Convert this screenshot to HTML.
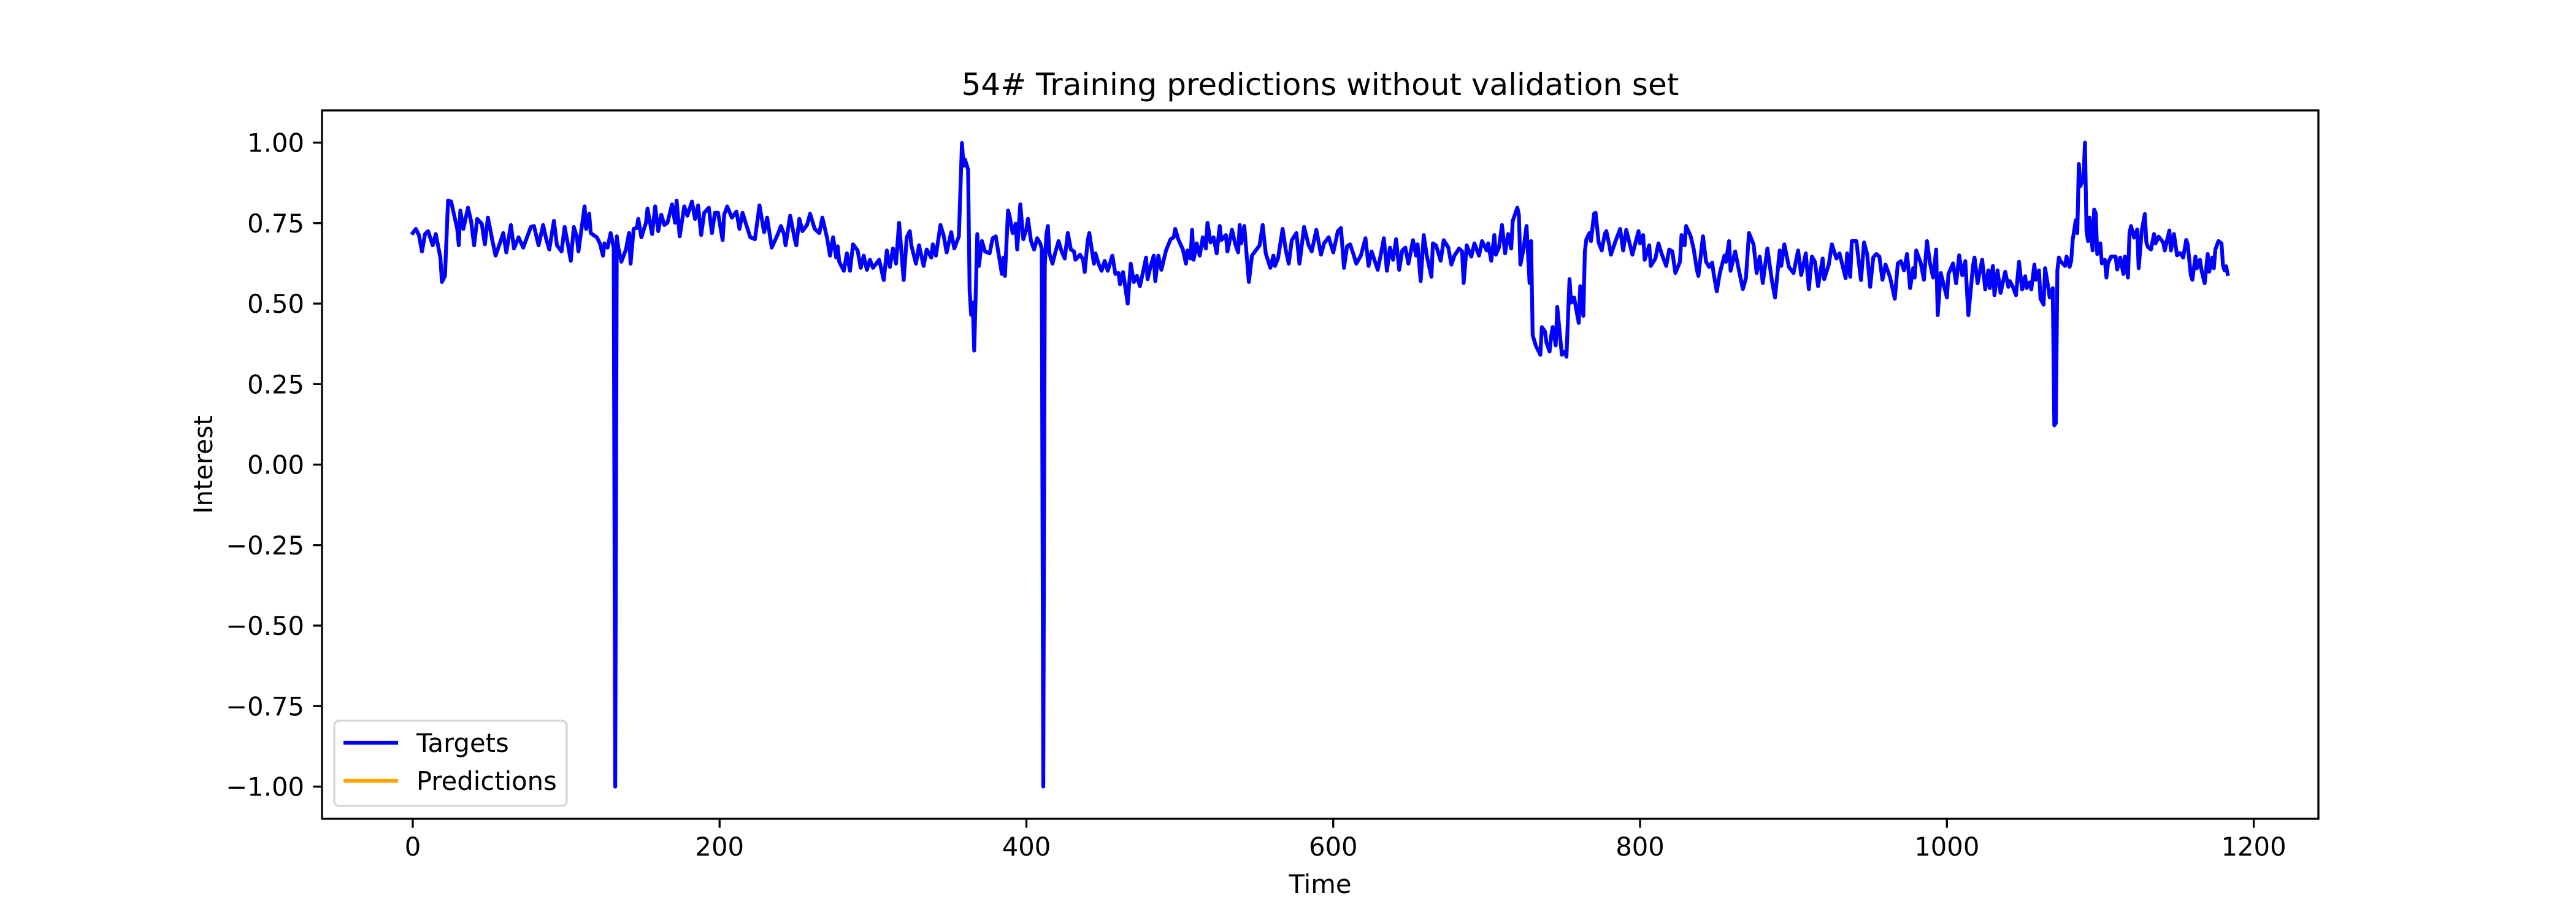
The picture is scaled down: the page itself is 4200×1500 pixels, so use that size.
<!DOCTYPE html>
<html><head><meta charset="utf-8"><style>
html,body{margin:0;padding:0;background:#fff;}
svg{display:block;font-family:"DejaVu Sans","Liberation Sans",sans-serif;}
</style></head><body>
<svg id="chart" width="4200" height="1500" viewBox="0 0 4200 1500" xmlns="http://www.w3.org/2000/svg">
<rect width="4200" height="1500" fill="#fff"/>
<text x="2152.5" y="155" font-size="50" text-anchor="middle" fill="#000">54# Training predictions without validation set</text>
<g id="plot"></g>
<text x="2152.5" y="1456" font-size="41.7" text-anchor="middle" fill="#000">Time</text>
<text transform="translate(346,757.5) rotate(-90)" font-size="41.7" text-anchor="middle" fill="#000">Interest</text>
<g>
<rect x="545" y="1175" width="379" height="139" rx="8" fill="#fff" fill-opacity="0.8" stroke="#d6d6d6" stroke-width="3.3"/>
<line x1="560" y1="1211" x2="649" y2="1211" stroke="#0000ff" stroke-width="6.25"/>
<text x="679" y="1226" font-size="41.7" fill="#000">Targets</text>
<line x1="560" y1="1273" x2="649" y2="1273" stroke="#ffa500" stroke-width="6.25"/>
<text x="679" y="1288" font-size="41.7" fill="#000">Predictions</text>
</g>
</svg>
<script>
const xTicks = [0, 200, 400, 600, 800, 1000, 1200];
const yTicks = [-1.0, -0.75, -0.5, -0.25, 0.0, 0.25, 0.5, 0.75, 1.0];
const yTickLabels = ["\u22121.00","\u22120.75","\u22120.50","\u22120.25","0.00","0.25","0.50","0.75","1.00"];
const times = [0,2,4,6,8,10,13,15,18,19,21,23,25,29,30,31,33,36,38,40,42,45,47,49,52,54,57,59,61,64,66,69,72,75,77,79,82,85,87,89,92,94,97,99,101,103,105,107,108,112,113,115,116,120,122,124,125,127,129,131,132,133,134,136,139,141,142,144,146,147,149,152,153,156,158,160,162,164,166,169,171,172,174,177,179,182,184,186,188,190,193,195,197,199,202,203,205,208,211,213,215,217,220,223,226,229,231,234,238,240,242,243,246,249,250,252,254,257,259,262,265,267,270,272,274,276,277,278,281,283,285,287,290,292,294,296,298,300,304,307,309,311,313,
315,317,320,322,324,325,328,330,333,335,338,339,341,344,346,348,351,353,356,358,359,360,362,363,364,365,366,368,369,371,373,376,378,380,384,385,386,388,389,391,393,394,396,398,400,401,403,405,407,409,410,411,412,413,414,415,417,419,421,423,425,427,429,431,432,435,437,438,440,441,444,445,447,449,451,453,456,458,460,461,463,466,468,470,472,474,476,478,479,481,483,484,486,488,491,494,496,497,499,502,504,505,507,508,509,511,513,515,517,518,520,522,524,526,527,530,531,534,536,538,539,540,542,545,547,549,552,554,556,559,561,562,564,567,569,571,573,576,578,581,584,586,589,592,594,597,600,603,605,607,609,611,613,615,618,621,623,625,629,631,633,
635,637,639,641,643,645,647,649,652,654,655,657,659,661,664,665,667,670,672,675,677,679,682,684,685,687,690,692,695,697,700,701,703,705,706,708,710,712,714,716,717,720,721,722,724,726,728,729,730,732,735,736,738,739,741,742,743,745,746,749,751,752,754,755,757,760,761,763,764,765,767,768,770,771,773,775,777,778,780,781,784,787,789,791,795,799,800,802,803,806,807,810,812,814,817,819,821,823,826,827,829,830,833,835,837,838,841,843,845,847,848,850,852,855,856,858,859,862,864,867,869,871,874,876,878,880,883,886,888,891,892,894,897,900,903,905,908,910,912,914,916,919,920,923,925,928,930,934,935,937,938,941,944,946,
948,950,952,954,956,958,960,962,963,966,968,970,972,974,976,978,979,980,983,985,987,989,991,993,994,996,1000,1001,1004,1006,1008,1010,1012,1014,1017,1018,1020,1023,1025,1027,1028,1030,1031,1033,1035,1038,1040,1041,1043,1045,1047,1049,1051,1052,1054,1055,1057,1058,1060,1061,1063,1064,1066,1067,1069,1070,1071,1072,1073,1074,1077,1078,1080,1081,1082,1084,1085,1086,1087,1089,1090,1091,1092,1093,1095,1096,1097,1098,1100,1101,1103,1104,1105,1107,1110,1111,1113,1115,1116,1118,1119,1120,1122,1124,1125,1127,1129,1130,1131,1133,1135,1136,1138,1141,1142,1145,1146,1148,1150,1152,1154,1156,1157,1159,1160,1162,1163,1165,1166,1168,1170,1171,1173,1174,1175,1177,1179,1180,1181,1182,1183];
const targets = [0.719,0.732,0.713,0.662,0.716,0.725,0.681,0.716,0.643,0.567,0.586,0.820,0.817,0.732,0.681,0.789,0.732,0.798,0.757,0.681,0.763,0.748,0.684,0.767,0.694,0.649,0.690,0.719,0.659,0.744,0.671,0.706,0.674,0.713,0.738,0.741,0.681,0.744,0.700,0.668,0.757,0.681,0.662,0.738,0.687,0.633,0.738,0.706,0.662,0.802,0.732,0.779,0.719,0.706,0.687,0.649,0.687,0.674,0.719,0.674,-1.0,0.709,0.674,0.630,0.668,0.719,0.624,0.732,0.735,0.763,0.706,0.751,0.795,0.716,0.802,0.725,0.776,0.744,0.751,0.808,0.751,0.820,0.709,0.802,0.773,0.817,0.763,0.805,0.713,0.782,0.798,0.719,0.782,0.782,0.697,0.776,0.802,0.767,0.786,0.732,0.782,0.751,0.706,0.700,0.805,0.722,0.767,0.674,0.716,0.741,0.716,0.681,0.773,0.700,0.681,0.763,0.725,0.744,0.779,0.732,0.719,0.767,0.706,0.649,0.706,0.643,0.678,0.630,0.602,0.656,0.602,0.684,0.665,0.611,0.649,0.605,0.636,0.611,0.636,0.573,0.665,0.614,0.671,
0.624,0.751,0.573,0.706,0.725,0.681,0.624,0.681,0.617,0.668,0.643,0.684,0.649,0.744,0.713,0.659,0.722,0.671,0.709,0.999,0.928,0.947,0.916,0.541,0.465,0.503,0.354,0.716,0.617,0.694,0.662,0.656,0.703,0.709,0.592,0.643,0.586,0.789,0.773,0.719,0.748,0.668,0.808,0.700,0.732,0.763,0.694,0.668,0.703,0.687,0.671,-1.0,0.620,0.713,0.741,0.656,0.624,0.662,0.694,0.662,0.640,0.719,0.668,0.662,0.636,0.652,0.636,0.598,0.697,0.719,0.624,0.656,0.624,0.602,0.633,0.602,0.649,0.592,0.595,0.560,0.598,0.500,0.624,0.567,0.586,0.554,0.598,0.643,0.576,0.617,0.649,0.570,0.649,0.605,0.665,0.700,0.706,0.732,0.700,0.668,0.624,0.665,0.640,0.729,0.636,0.687,0.649,0.706,0.671,0.751,0.690,0.706,0.656,0.741,0.697,0.713,0.662,0.729,0.687,0.659,0.744,0.687,0.741,0.567,0.649,0.662,0.681,0.744,0.656,0.611,0.649,0.617,0.640,0.732,0.668,0.624,0.697,0.719,0.624,0.738,0.681,0.662,0.729,0.652,0.687,0.706,0.659,0.725,0.735,0.611,0.678,0.684,0.656,0.624,0.649,0.703,0.617,0.662,0.605,0.652,0.703,
0.602,0.674,0.636,0.700,0.605,0.665,0.674,0.624,0.697,0.649,0.684,0.570,0.713,0.649,0.583,0.687,0.681,0.633,0.697,0.674,0.621,0.649,0.671,0.662,0.564,0.681,0.646,0.687,0.649,0.694,0.665,0.687,0.633,0.713,0.652,0.674,0.744,0.656,0.716,0.671,0.757,0.798,0.776,0.621,0.668,0.741,0.564,0.694,0.402,0.370,0.341,0.427,0.414,0.379,0.351,0.398,0.427,0.370,0.490,0.341,0.351,0.335,0.576,0.503,0.519,0.440,0.554,0.462,0.662,0.700,0.719,0.694,0.779,0.782,0.690,0.665,0.716,0.725,0.681,0.652,0.694,0.732,0.665,0.729,0.652,0.725,0.687,0.713,0.636,0.681,0.617,0.640,0.687,0.656,0.617,0.668,0.662,0.595,0.630,0.713,0.681,0.741,0.709,0.668,0.605,0.586,0.709,0.630,0.614,0.627,0.592,0.538,0.595,0.649,0.630,0.694,0.602,0.662,0.614,0.545,0.579,0.719,0.684,0.595,0.646,0.564,0.671,0.570,0.519,0.665,0.617,0.684,0.614,0.595,0.665,0.589,0.656,0.545,0.646,0.630,0.554,0.640,0.576,0.621,0.684,0.640,0.656,0.579,0.656,0.583,0.694,0.694,0.573,0.690,
0.654,0.552,0.643,0.654,0.646,0.574,0.621,0.595,0.581,0.515,0.625,0.632,0.603,0.654,0.548,0.610,0.581,0.665,0.625,0.574,0.694,0.625,0.581,0.668,0.464,0.595,0.519,0.592,0.625,0.563,0.650,0.588,0.632,0.464,0.617,0.643,0.563,0.636,0.544,0.603,0.548,0.617,0.526,0.603,0.533,0.599,0.552,0.570,0.552,0.526,0.630,0.544,0.585,0.548,0.566,0.544,0.621,0.574,0.603,0.515,0.497,0.610,0.552,0.519,0.548,0.122,0.129,0.603,0.643,0.632,0.617,0.646,0.614,0.632,0.698,0.759,0.719,0.934,0.865,0.887,1.000,0.727,0.694,0.767,0.665,0.792,0.781,0.654,0.687,0.625,0.636,0.581,0.625,0.646,0.646,0.606,0.643,0.592,0.646,0.581,0.719,0.741,0.705,0.730,0.610,0.727,0.778,0.690,0.676,0.668,0.716,0.687,0.708,0.690,0.665,0.727,0.665,0.716,0.650,0.657,0.643,0.698,0.683,0.588,0.574,0.646,0.610,0.636,0.603,0.563,0.654,0.599,0.643,0.610,0.668,0.694,0.687,0.617,0.603,0.616,0.592];
const predictions = [];

const L = 525, R = 3780, T = 180, B = 1335;
const xMin = -59.15, xMax = 1242.15, yMin = -1.1, yMax = 1.1;
function xs(v){ return L + (v - xMin) / (xMax - xMin) * (R - L); }
function ys(v){ return B - (v - yMin) / (yMax - yMin) * (B - T); }
const NS = "http://www.w3.org/2000/svg";
const plot = document.getElementById('plot');
function mk(tag, attrs){ const e = document.createElementNS(NS, tag); for (const k in attrs) e.setAttribute(k, attrs[k]); return e; }

let d = '';
for (let i = 0; i < times.length; i++) d += (i ? 'L' : 'M') + xs(times[i]).toFixed(1) + ',' + ys(targets[i]).toFixed(1);
const line = mk('path', {d: d, fill: 'none', stroke: '#0000ff', 'stroke-width': 6.25, 'stroke-linejoin': 'round', 'stroke-linecap': 'square'});


plot.appendChild(line);
if (predictions.length) {
  let d2 = '';
  for (let i = 0; i < predictions.length; i++) d2 += (i ? 'L' : 'M') + xs(times[i]) + ',' + ys(predictions[i]);
  const pl = mk('path', {d: d2, fill: 'none', stroke: '#ffa500', 'stroke-width': 6.25});
  
  
  plot.appendChild(pl);
}

xTicks.forEach(function(t){
  const x = xs(t);
  const tk = mk('line', {x1: x, y1: B, x2: x, y2: B + 14.6, stroke: '#000', 'stroke-width': 3.3});
  
  
  plot.appendChild(tk);
  const lb = mk('text', {x: x, y: B + 60, 'font-size': 41.7, 'text-anchor': 'middle', fill: '#000'});
  lb.textContent = String(t);
  
  
  plot.appendChild(lb);
});
yTicks.forEach(function(t, i){
  const y = ys(t);
  const tk = mk('line', {x1: L - 14.6, y1: y, x2: L, y2: y, stroke: '#000', 'stroke-width': 3.3});
  
  
  plot.appendChild(tk);
  const lb = mk('text', {x: L - 29, y: y + 15, 'font-size': 41.7, 'text-anchor': 'end', fill: '#000'});
  lb.textContent = yTickLabels[i];
  
  
  plot.appendChild(lb);
});
const frame = mk('rect', {x: L, y: T, width: R - L, height: B - T, fill: 'none', stroke: '#000', 'stroke-width': 3.3});


plot.appendChild(frame);
</script>
</body></html>
